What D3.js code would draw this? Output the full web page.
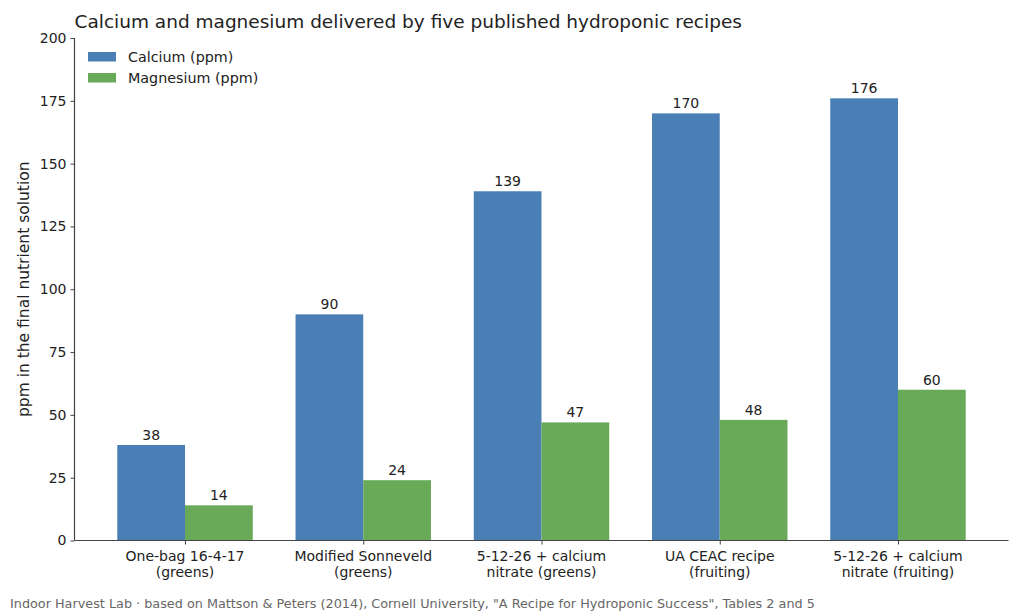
<!DOCTYPE html>
<html><head><meta charset="utf-8">
<script src="https://cdn.jsdelivr.net/npm/d3@7"></script>
<style>
body{margin:0;background:#fff;}
text{font-family:"DejaVu Sans",sans-serif;}
</style></head>
<body>
<svg id="c" width="1024" height="614"></svg>
<script>
const categories = ["One-bag 16-4-17\n(greens)", "Modified Sonneveld\n(greens)", "5-12-26 + calcium\nnitrate (greens)", "UA CEAC recipe\n(fruiting)", "5-12-26 + calcium\nnitrate (fruiting)"];
const calcium = [38, 90, 139, 170, 176];
const magnesium = [14, 24, 47, 48, 60];
const yTicks = [0, 25, 50, 75, 100, 125, 150, 175, 200];
const seriesNames = ["Calcium (ppm)", "Magnesium (ppm)"];
const colors = ["#4a7fb5", "#69aa59"];

const svg = d3.select("#c");
const L = 74.5, R = 1008.5, T = 38, B = 540.5;
const x = d3.scaleLinear().domain([-0.62, 4.62]).range([L, R]);
const y = d3.scaleLinear().domain([0, 200]).range([B, T]);
const bw = 0.38;
const fs = 14;

const series = [calcium, magnesium];
series.forEach((vals, si) => {
  const g = svg.append("g");
  vals.forEach((v, i) => {
    const x0 = si === 0 ? x(i - bw) : x(i);
    const x1 = si === 0 ? x(i) : x(i + bw);
    g.append("rect").attr("x", x0).attr("y", y(v)).attr("width", x1 - x0).attr("height", y(0) - y(v)).attr("fill", colors[si]);
    g.append("text").attr("x", (x0 + x1) / 2).attr("y", y(v) - 5).attr("text-anchor", "middle")
      .attr("font-size", fs).attr("fill", "#222").text(v);
  });
});

// axes
const yAxis = d3.axisLeft(y).tickValues(yTicks).tickSize(4).tickPadding(4);
const gy = svg.append("g").attr("transform", `translate(${L},0)`).call(yAxis);
gy.select(".domain").attr("stroke", "#444").attr("stroke-width", 1.2).attr("d", `M-0,${B}V${T}`);
gy.selectAll(".tick line").attr("stroke", "#444");
gy.selectAll(".tick text").attr("font-size", fs).attr("fill", "#222").attr("font-family", "DejaVu Sans");

const xAxis = d3.axisBottom(x).tickValues(d3.range(categories.length)).tickSize(4).tickFormat("");
const gx = svg.append("g").attr("transform", `translate(0,${B})`).call(xAxis);
gx.select(".domain").attr("stroke", "#444").attr("stroke-width", 1.2).attr("d", `M${L},0H${R}`);
gx.selectAll(".tick line").attr("stroke", "#444");
categories.forEach((c, i) => {
  const lines = c.split("\n");
  const t = svg.append("text").attr("x", x(i)).attr("y", B + 20).attr("text-anchor", "middle")
    .attr("font-size", fs).attr("fill", "#222");
  lines.forEach((ln, j) => t.append("tspan").attr("x", x(i)).attr("dy", j === 0 ? 0 : 16.5).text(ln));
});

// title
svg.append("text").attr("x", L).attr("y", 28).attr("font-size", 18.5).attr("fill", "#222")
  .text("Calcium and magnesium delivered by five published hydroponic recipes");

// y label
svg.append("text").attr("transform", `translate(29,${(T + B) / 2}) rotate(-90)`).attr("text-anchor", "middle")
  .attr("font-size", 15.5).attr("fill", "#222").text("ppm in the final nutrient solution");

// legend
seriesNames.forEach((n, i) => {
  svg.append("rect").attr("x", 88).attr("y", 52 + i * 21).attr("width", 28).attr("height", 9.5).attr("fill", colors[i]);
  svg.append("text").attr("x", 128).attr("y", 61.5 + i * 21).attr("font-size", 14.3).attr("fill", "#222").text(n);
});

// footer
svg.append("text").attr("x", 10).attr("y", 608).attr("font-size", 12.8).attr("fill", "#666")
  .text("Indoor Harvest Lab · based on Mattson & Peters (2014), Cornell University, \"A Recipe for Hydroponic Success\", Tables 2 and 5");
</script>
</body></html>
